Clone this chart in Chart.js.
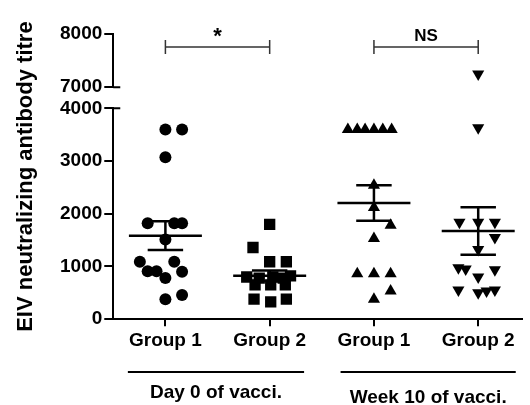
<!DOCTYPE html>
<html>
<head>
<meta charset="utf-8">
<script src="https://cdn.jsdelivr.net/npm/chart.js@4.4.0/dist/chart.umd.min.js"></script>
<style>
  html, body { margin: 0; padding: 0; background: #fff; }
</style>
</head>
<body>
<canvas id="chart" width="530" height="405"></canvas>
<script>
// categories and labels
const groupLabels = ["Group 1", "Group 2", "Group 1", "Group 2"];
const periodLabels = ["Day 0 of vacci.", "Week 10 of vacci."];
const lowTicks = [0, 1000, 2000, 3000, 4000];
const highTicks = [7000, 8000];
const yTitle = "EIV neutralizing antibody titre";

// titres, one array per group
const day0Group1 = [3600, 3600, 3070, 1820, 1820, 1820, 1510, 1090, 1090, 910, 910, 900, 780, 380, 460];
const day0Group2 = [1800, 1360, 1090, 1090, 800, 780, 800, 780, 820, 650, 650, 650, 380, 330, 380];
const week10Group1 = [3600, 3600, 3600, 3600, 3600, 3600, 2540, 2120, 1780, 1530, 860, 860, 860, 535, 380];
const week10Group2 = [7250, 3630, 1840, 1840, 1840, 1550, 1320, 975, 950, 800, 940, 555, 500, 535, 555];

// horizontal scatter of the dots, in category units
const day0Group1Spread = [0, 0.16, 0, -0.17, 0.085, 0.16, 0, -0.245, 0.085, -0.17, -0.085, 0.16, 0, 0, 0.16];
const day0Group2Spread = [0, -0.16, 0, 0.16, -0.22, -0.1, 0.03, 0.13, 0.2, -0.14, 0.01, 0.15, -0.15, 0.01, 0.16];
const week10Group1Spread = [-0.25, -0.16, -0.085, 0, 0.085, 0.17, 0, 0, 0.16, 0, -0.16, 0, 0.16, 0.16, 0];
const week10Group2Spread = [0, 0, -0.18, 0, 0.16, 0.16, 0, -0.19, -0.12, 0, 0.16, -0.19, 0, 0.08, 0.16];

const groups = [
  { values: day0Group1, spread: day0Group1Spread, style: "circle", radius: 6, rotation: 0 },
  { values: day0Group2, spread: day0Group2Spread, style: "rect", radius: 8, rotation: 0 },
  { values: week10Group1, spread: week10Group1Spread, style: "triangle", radius: 7, rotation: 0 },
  { values: week10Group2, spread: week10Group2Spread, style: "triangle", radius: 7, rotation: 180 },
];

const font = { family: "'Liberation Sans', Arial, sans-serif", weight: "bold", size: 19 };
const fontStr = (size) => "bold " + size + "px 'Liberation Sans', Arial, sans-serif";

const datasets = [];
groups.forEach((g, gi) => {
  const pts = g.values.map((v, i) => ({ x: gi + 1 + g.spread[i], y: v }));
  const base = {
    pointStyle: g.style,
    pointRadius: g.radius,
    pointRotation: g.rotation,
    pointBackgroundColor: "#000",
    pointBorderWidth: 0,
    showLine: false,
  };
  datasets.push({ ...base, data: pts.filter((p) => p.y <= 4000), yAxisID: "y" });
  const high = pts.filter((p) => p.y > 4000);
  if (high.length) datasets.push({ ...base, data: high, yAxisID: "yUp" });
});

function meanSem(arr) {
  const n = arr.length;
  const m = arr.reduce((a, b) => a + b, 0) / n;
  const sd = Math.sqrt(arr.reduce((a, b) => a + (b - m) * (b - m), 0) / (n - 1));
  return { mean: m, sem: sd / Math.sqrt(n) };
}

const tickGrid = (len) => ({
  display: true,
  drawOnChartArea: false,
  drawTicks: true,
  tickLength: len,
  color: "#000",
  lineWidth: 2,
});

const decorations = {
  id: "decorations",
  afterDatasetsDraw(chart) {
    const { ctx, scales } = chart;
    const x = scales.x, y = scales.y, yUp = scales.yUp;
    ctx.save();
    ctx.strokeStyle = "#000";
    ctx.lineCap = "butt";

    // mean +/- SEM
    groups.forEach((g, gi) => {
      const s = meanSem(g.values);
      const c = gi + 1;
      const py = y.getPixelForValue(s.mean);
      const pTop = y.getPixelForValue(s.mean + s.sem);
      const pBot = y.getPixelForValue(s.mean - s.sem);
      ctx.lineWidth = 2.5;
      ctx.beginPath();
      ctx.moveTo(x.getPixelForValue(c - 0.35), py);
      ctx.lineTo(x.getPixelForValue(c + 0.35), py);
      ctx.moveTo(x.getPixelForValue(c - 0.17), pTop);
      ctx.lineTo(x.getPixelForValue(c + 0.17), pTop);
      ctx.moveTo(x.getPixelForValue(c - 0.17), pBot);
      ctx.lineTo(x.getPixelForValue(c + 0.17), pBot);
      ctx.moveTo(x.getPixelForValue(c), pTop);
      ctx.lineTo(x.getPixelForValue(c), pBot);
      ctx.stroke();
    });

    // axis break caps
    const left = chart.chartArea.left;
    ctx.lineWidth = 2;
    ctx.beginPath();
    [yUp.getPixelForValue(7000), y.getPixelForValue(4000)].forEach((py) => {
      ctx.moveTo(left, py);
      ctx.lineTo(left + 7, py);
    });
    ctx.stroke();

    // significance brackets
    ctx.strokeStyle = "#333";
    ctx.lineWidth = 1.5;
    const by = yUp.getPixelForValue(7755);
    [[1, 2, "*", 22], [3, 4, "NS", 17]].forEach(([a, b, label, size]) => {
      const xa = x.getPixelForValue(a), xb = x.getPixelForValue(b);
      ctx.beginPath();
      ctx.moveTo(xa, by); ctx.lineTo(xb, by);
      ctx.moveTo(xa, by - 7); ctx.lineTo(xa, by + 7);
      ctx.moveTo(xb, by - 7); ctx.lineTo(xb, by + 7);
      ctx.stroke();
      ctx.fillStyle = "#000";
      ctx.font = fontStr(size);
      ctx.textAlign = "center";
      ctx.textBaseline = "alphabetic";
      ctx.fillText(label, (xa + xb) / 2, label === "*" ? by - 4 : by - 6);
    });

    // period lines and labels under the axis
    ctx.strokeStyle = "#000";
    ctx.lineWidth = 2;
    ctx.font = fontStr(19);
    ctx.fillStyle = "#000";
    [[0.64, 2.33, 398], [2.68, 4.36, 403]].forEach(([a, b, ty], i) => {
      const xa = x.getPixelForValue(a), xb = x.getPixelForValue(b);
      ctx.beginPath();
      ctx.moveTo(xa, 372); ctx.lineTo(xb, 372);
      ctx.stroke();
      ctx.fillText(periodLabels[i], (xa + xb) / 2, ty);
    });

    // y axis title across both axis segments
    const cy = (yUp.top + y.bottom) / 2;
    ctx.translate(32, cy);
    ctx.rotate(-Math.PI / 2);
    ctx.font = fontStr(22);
    ctx.textAlign = "center";
    ctx.fillText(yTitle, 0, 0);
    ctx.restore();
  },
};

new Chart(document.getElementById("chart"), {
  type: "scatter",
  data: { datasets: datasets },
  plugins: [decorations],
  options: {
    responsive: false,
    animation: false,
    devicePixelRatio: 1,
    layout: { padding: { left: 58, right: 2, top: 34, bottom: 50 } },
    plugins: { legend: { display: false }, tooltip: { enabled: false } },
    scales: {
      x: {
        type: "linear",
        min: 0.5,
        max: 4.42,
        afterBuildTicks: (s) => { s.ticks = groupLabels.map((_, i) => ({ value: i + 1 })); },
        ticks: {
          callback: (v) => groupLabels[v - 1],
          font: font,
          color: "#000",
          padding: 3,
          autoSkip: false,
          maxRotation: 0,
        },
        grid: tickGrid(7),
        border: { color: "#000", width: 2 },
      },
      y: {
        type: "linear",
        position: "left",
        stack: "v",
        stackWeight: 210,
        min: 0,
        max: 4000,
        afterBuildTicks: (s) => { s.ticks = lowTicks.map((v) => ({ value: v })); },
        ticks: { font: font, color: "#000", padding: 2, callback: (v) => String(v) },
        grid: tickGrid(9),
        border: { color: "#000", width: 2 },
      },
      yGap: {
        type: "linear",
        position: "left",
        stack: "v",
        stackWeight: 21,
        min: 0,
        max: 1,
        ticks: { display: false },
        grid: { display: false },
        border: { display: false },
      },
      yUp: {
        type: "linear",
        position: "left",
        stack: "v",
        stackWeight: 53,
        min: 7000,
        max: 8000,
        afterBuildTicks: (s) => { s.ticks = highTicks.map((v) => ({ value: v })); },
        ticks: { font: font, color: "#000", padding: 2, callback: (v) => String(v) },
        grid: tickGrid(9),
        border: { color: "#000", width: 2 },
      },
    },
  },
});
</script>
</body>
</html>
